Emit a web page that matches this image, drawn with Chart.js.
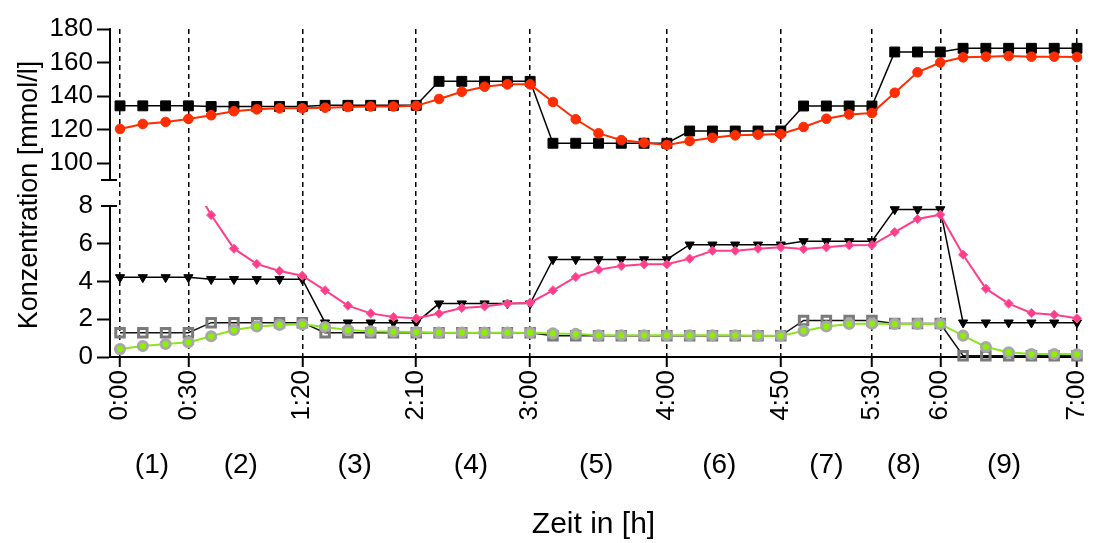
<!DOCTYPE html>
<html>
<head>
<meta charset="utf-8">
<title>Konzentration</title>
<script src="https://cdn.jsdelivr.net/npm/chart.js@4.4.1/dist/chart.umd.min.js"></script>
<style>
    html, body { margin: 0; padding: 0; background: #fff; }
    #wrap { width: 1096px; height: 543px; }
</style>
</head>
<body>
<div id="wrap"><canvas id="chart"></canvas></div>
<script>
// Messzeitpunkte in Minuten
const zeit = [0, 10, 20, 30, 40, 50, 60, 70, 80, 90, 100, 110, 120, 130, 140, 150, 160, 170, 180, 190,
    200, 210, 220, 230, 240, 250, 260, 270, 280, 290, 300, 310, 320, 330, 340, 350, 360, 370, 380, 390,
    400, 410, 420];

// oberer Bereich (90 - 180)
const quadratSchwarz = [134.2, 134.2, 134.2, 134.2, 133.8, 133.8, 133.8, 133.8, 133.8, 134.5, 134.5, 134.5, 134.5, 134.5,
    148.8, 148.8, 148.8, 148.8, 148.8, 111.9, 111.9, 111.9, 111.9, 111.9, 111.9, 119.2, 119.2, 119.2, 119.2, 119.2,
    134.1, 134.1, 134.1, 134.1, 166.3, 166.3, 166.3, 168.5, 168.5, 168.5, 168.5, 168.5, 168.5];
const kreisRot = [120.4, 123.4, 124.6, 126.4, 128.6, 131.0, 132.1, 132.7, 132.7, 133.1, 133.5, 133.8, 133.8, 134.2,
    138.3, 142.6, 145.6, 147.0, 147.0, 136.5, 126.2, 117.8, 113.8, 112.2, 110.9, 113.2, 115.2, 116.6, 117.0, 117.4,
    121.6, 126.5, 129.1, 129.9, 142.0, 154.2, 160.0, 163.1, 163.5, 163.9, 163.5, 163.5, 163.3];

// unterer Bereich (0 - 8)
const dreieck = [4.22, 4.22, 4.22, 4.22, 4.12, 4.12, 4.12, 4.12, 4.12, 1.82, 1.82, 1.82, 1.82, 1.82,
    2.83, 2.83, 2.83, 2.83, 2.83, 5.17, 5.17, 5.17, 5.17, 5.17, 5.17, 5.95, 5.95, 5.95, 5.95, 5.95,
    6.13, 6.13, 6.13, 6.13, 7.82, 7.82, 7.82, 1.82, 1.82, 1.82, 1.82, 1.82, 1.82];
const raute = [null, null, null, 9.6, 7.52, 5.74, 4.93, 4.56, 4.31, 3.53, 2.72, 2.31, 2.12, 2.05,
    2.3, 2.6, 2.68, 2.83, 2.88, 3.53, 4.24, 4.63, 4.82, 4.91, 4.91, 5.21, 5.63, 5.63, 5.74, 5.81,
    5.72, 5.81, 5.92, 5.93, 6.62, 7.31, 7.54, 5.42, 3.62, 2.83, 2.33, 2.24, 2.05];
const quadratGrau = [1.29, 1.29, 1.29, 1.29, 1.82, 1.82, 1.82, 1.82, 1.82, 1.29, 1.29, 1.29, 1.29, 1.29,
    1.29, 1.29, 1.29, 1.29, 1.29, 1.12, 1.12, 1.12, 1.12, 1.12, 1.12, 1.12, 1.12, 1.12, 1.12, 1.12,
    1.94, 1.94, 1.94, 1.94, 1.77, 1.77, 1.77, 0.07, 0.07, 0.07, 0.07, 0.07, 0.07];
const kreisGruen = [0.42, 0.58, 0.69, 0.78, 1.1, 1.43, 1.62, 1.7, 1.73, 1.59, 1.43, 1.36, 1.34, 1.32,
    1.29, 1.29, 1.29, 1.29, 1.29, 1.25, 1.22, 1.15, 1.15, 1.15, 1.15, 1.15, 1.15, 1.15, 1.13, 1.13,
    1.38, 1.62, 1.75, 1.77, 1.75, 1.75, 1.75, 1.13, 0.53, 0.25, 0.16, 0.16, 0.14];

// Achsen
const xTickPos = [0, 30, 80, 130, 180, 240, 290, 330, 360, 420];
const xTickLabels = ['0:00', '0:30', '1:20', '2:10', '3:00', '4:00', '4:50', '5:30', '6:00', '7:00'];
const phasePos = [14, 53, 103, 154, 209, 263, 310, 344, 388];
const phaseLabels = ['(1)', '(2)', '(3)', '(4)', '(5)', '(6)', '(7)', '(8)', '(9)'];
const yTopTicks = [100, 120, 140, 160, 180];
const yBotTicks = [0, 2, 4, 6, 8];

const FONT = '"Liberation Sans", Arial, sans-serif';

function punkte(werte) {
    return zeit.map((t, i) => ({ x: t, y: werte[i] }));
}

// Achsenbruch und y-Titel
const extras = {
    id: 'extras',
    afterDraw(chart) {
        const ctx = chart.ctx;
        const oben = chart.scales.yTop;
        const unten = chart.scales.yBot;
        const x = unten.right;
        ctx.save();
        ctx.strokeStyle = '#000';
        ctx.lineWidth = 2;
        ctx.beginPath();
        ctx.moveTo(x - 9, oben.bottom);
        ctx.lineTo(x + 7, oben.bottom);
        ctx.moveTo(x - 9, unten.top);
        ctx.lineTo(x + 7, unten.top);
        ctx.stroke();

        const area = chart.chartArea;
        ctx.translate(30, (area.top + area.bottom) / 2 + 2);
        ctx.rotate(-Math.PI / 2);
        ctx.font = '27px ' + FONT;
        ctx.textAlign = 'center';
        ctx.textBaseline = 'middle';
        ctx.fillStyle = '#000';
        ctx.fillText('Konzentration [mmol/l]', 0, 0);
        ctx.restore();
    }
};

function yAchse(extra) {
    return Object.assign({
        type: 'linear',
        position: 'left',
        stack: 'konz',
        afterFit: s => { s.width = 110; s.paddingTop = 0; s.paddingBottom = 0; },
        grid: {
            drawOnChartArea: false,
            drawTicks: true,
            tickLength: 13,
            tickWidth: 2,
            // die 8 bekommt stattdessen die Bruchmarke
            tickColor: c => (c.tick && c.tick.value === 8) ? 'rgba(0,0,0,0)' : '#000',
            color: '#000'
        },
        border: { color: '#000', width: 2 },
        ticks: {
            autoSkip: false,
            color: '#000',
            padding: 4,
            font: { family: FONT, size: 26 }
        }
    }, extra);
}

const ctx = document.getElementById('chart');

new Chart(ctx, {
    type: 'line',
    data: {
        datasets: [
            {
                data: punkte(kreisGruen), yAxisID: 'yBot', order: 0,
                borderColor: '#8ce61e', borderWidth: 2,
                pointStyle: 'circle', pointRadius: 4.6, pointBorderWidth: 3,
                pointBackgroundColor: '#8cf000', pointBorderColor: '#a8a8a8',
                clip: 12
            },
            {
                data: punkte(raute), yAxisID: 'yBot', order: 1,
                borderColor: '#ff3d8b', borderWidth: 2,
                pointStyle: 'rectRot', pointRadius: 4.6, pointBorderWidth: 1,
                pointBackgroundColor: '#ff3d8b', pointBorderColor: '#ff5c9c',
                clip: { left: 12, right: 12, top: 0, bottom: 12 }
            },
            {
                data: punkte(kreisRot), yAxisID: 'yTop', order: 2,
                borderColor: '#ff2d00', borderWidth: 2,
                pointStyle: 'circle', pointRadius: 4.8, pointBorderWidth: 1,
                pointBackgroundColor: '#ff2d00', pointBorderColor: '#ff2d00',
                clip: 12
            },
            {
                data: punkte(quadratGrau), yAxisID: 'yBot', order: 3,
                borderColor: '#111', borderWidth: 1.5,
                pointStyle: 'rect', pointRadius: 6, pointBorderWidth: 3,
                pointBackgroundColor: 'rgba(255,255,255,0)', pointBorderColor: '#7a7a7a',
                clip: 12
            },
            {
                data: punkte(dreieck), yAxisID: 'yBot', order: 4,
                borderColor: '#000', borderWidth: 1.5,
                pointStyle: 'triangle', pointRotation: 180, pointRadius: 5.3, pointBorderWidth: 1,
                pointBackgroundColor: '#000', pointBorderColor: '#000',
                clip: 12
            },
            {
                data: punkte(quadratSchwarz), yAxisID: 'yTop', order: 5,
                borderColor: '#000', borderWidth: 1.5,
                pointStyle: 'rect', pointRadius: 7, pointBorderWidth: 1,
                pointBackgroundColor: '#000', pointBorderColor: '#000',
                clip: 12
            }
        ]
    },
    options: {
        responsive: true,
        maintainAspectRatio: false,
        animation: false,
        events: [],
        layout: { padding: { left: 0, right: 19, top: 29, bottom: 0 } },
        plugins: {
            legend: { display: false },
            tooltip: { enabled: false }
        },
        scales: {
            x: {
                type: 'linear',
                position: 'bottom',
                min: -4.4,
                max: 420,
                afterBuildTicks: s => { s.ticks = xTickPos.map(v => ({ value: v })); },
                afterFit: s => { s.height = 80; s.paddingLeft = 0; s.paddingRight = 0; },
                grid: {
                    color: '#000',
                    lineWidth: 1.5,
                    drawTicks: true,
                    tickLength: 10,
                    tickWidth: 2,
                    tickColor: '#000'
                },
                border: { color: '#000', width: 2, dash: [5, 4] },
                ticks: {
                    autoSkip: false,
                    maxRotation: 90,
                    minRotation: 90,
                    padding: 3,
                    color: '#000',
                    font: { family: FONT, size: 26 },
                    callback: (v, i) => xTickLabels[i]
                }
            },
            phase: {
                type: 'linear',
                position: 'bottom',
                weight: 1,
                min: -4.4,
                max: 420,
                afterBuildTicks: s => { s.ticks = phasePos.map(v => ({ value: v })); },
                afterFit: s => { s.height = 106; s.paddingLeft = 0; s.paddingRight = 0; },
                grid: { display: false, drawTicks: false },
                border: { display: false },
                ticks: {
                    autoSkip: false,
                    maxRotation: 0,
                    padding: 11,
                    color: '#000',
                    font: { family: FONT, size: 28 },
                    callback: (v, i) => phaseLabels[i]
                },
                title: {
                    display: true,
                    text: 'Zeit in [h]',
                    color: '#000',
                    padding: { top: 0, bottom: 0 },
                    font: { family: FONT, size: 30 }
                }
            },
            yTop: yAchse({
                weight: 3,
                stackWeight: 151,
                min: 90,
                max: 180,
                afterBuildTicks: s => { s.ticks = yTopTicks.map(v => ({ value: v })); }
            }),
            yGap: {
                type: 'linear',
                position: 'left',
                stack: 'konz',
                weight: 2,
                stackWeight: 26,
                min: 0,
                max: 1,
                afterFit: s => { s.width = 110; },
                grid: { display: false },
                border: { display: false },
                ticks: { display: false }
            },
            yBot: yAchse({
                weight: 1,
                stackWeight: 151,
                min: 0,
                max: 8,
                afterBuildTicks: s => { s.ticks = yBotTicks.map(v => ({ value: v })); }
            })
        }
    },
    plugins: [extras]
});
</script>
</body>
</html>
